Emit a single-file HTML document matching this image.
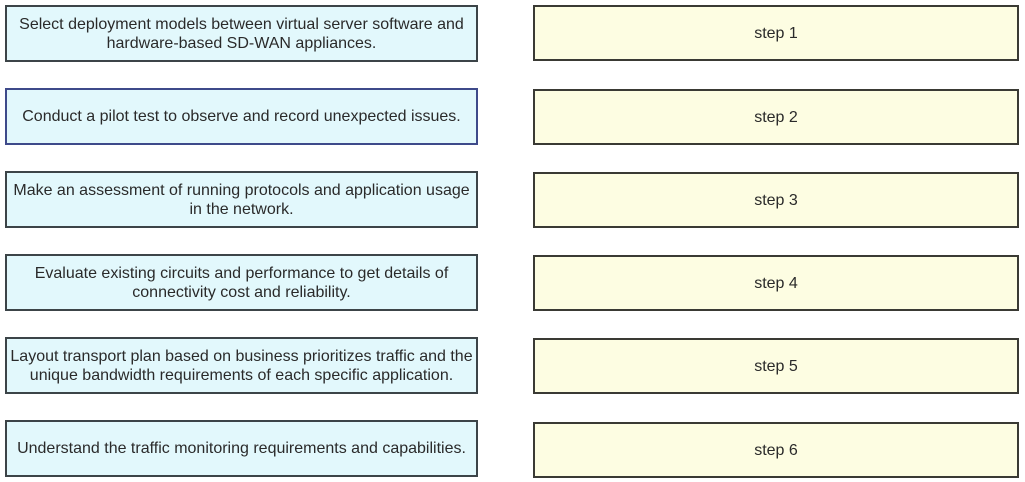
<!DOCTYPE html>
<html><head><meta charset="utf-8"><style>
body{margin:0;width:1025px;height:482px;background:#fff;position:relative;overflow:hidden;font-family:"Liberation Sans",sans-serif;font-size:16px;color:#2a2a2a}
.b{position:absolute;box-sizing:border-box;display:flex;align-items:center;justify-content:center;text-align:center;line-height:19px;white-space:nowrap}
.l{left:5px;width:473px;height:57px;background:#e2f8fc;border:2px solid #3c4448}
.r{left:533px;width:486px;height:56px;background:#fdfde2;border:2px solid #3a3a34}
</style></head><body>
<div class="b l" style="top:5px">Select deployment models between virtual server software and<br>hardware-based SD-WAN appliances.</div>
<div class="b l" style="top:88px;border-color:#3e4a8a">Conduct a pilot test to observe and record unexpected issues.</div>
<div class="b l" style="top:171px">Make an assessment of running protocols and application usage<br>in the network.</div>
<div class="b l" style="top:254px">Evaluate existing circuits and performance to get details of<br>connectivity cost and reliability.</div>
<div class="b l" style="top:337px">Layout transport plan based on business prioritizes traffic and the<br>unique bandwidth requirements of each specific application.</div>
<div class="b l" style="top:420px">Understand the traffic monitoring requirements and capabilities.</div>
<div class="b r" style="top:5px">step 1</div>
<div class="b r" style="top:89px">step 2</div>
<div class="b r" style="top:172px">step 3</div>
<div class="b r" style="top:255px">step 4</div>
<div class="b r" style="top:338px">step 5</div>
<div class="b r" style="top:422px">step 6</div>
</body></html>
